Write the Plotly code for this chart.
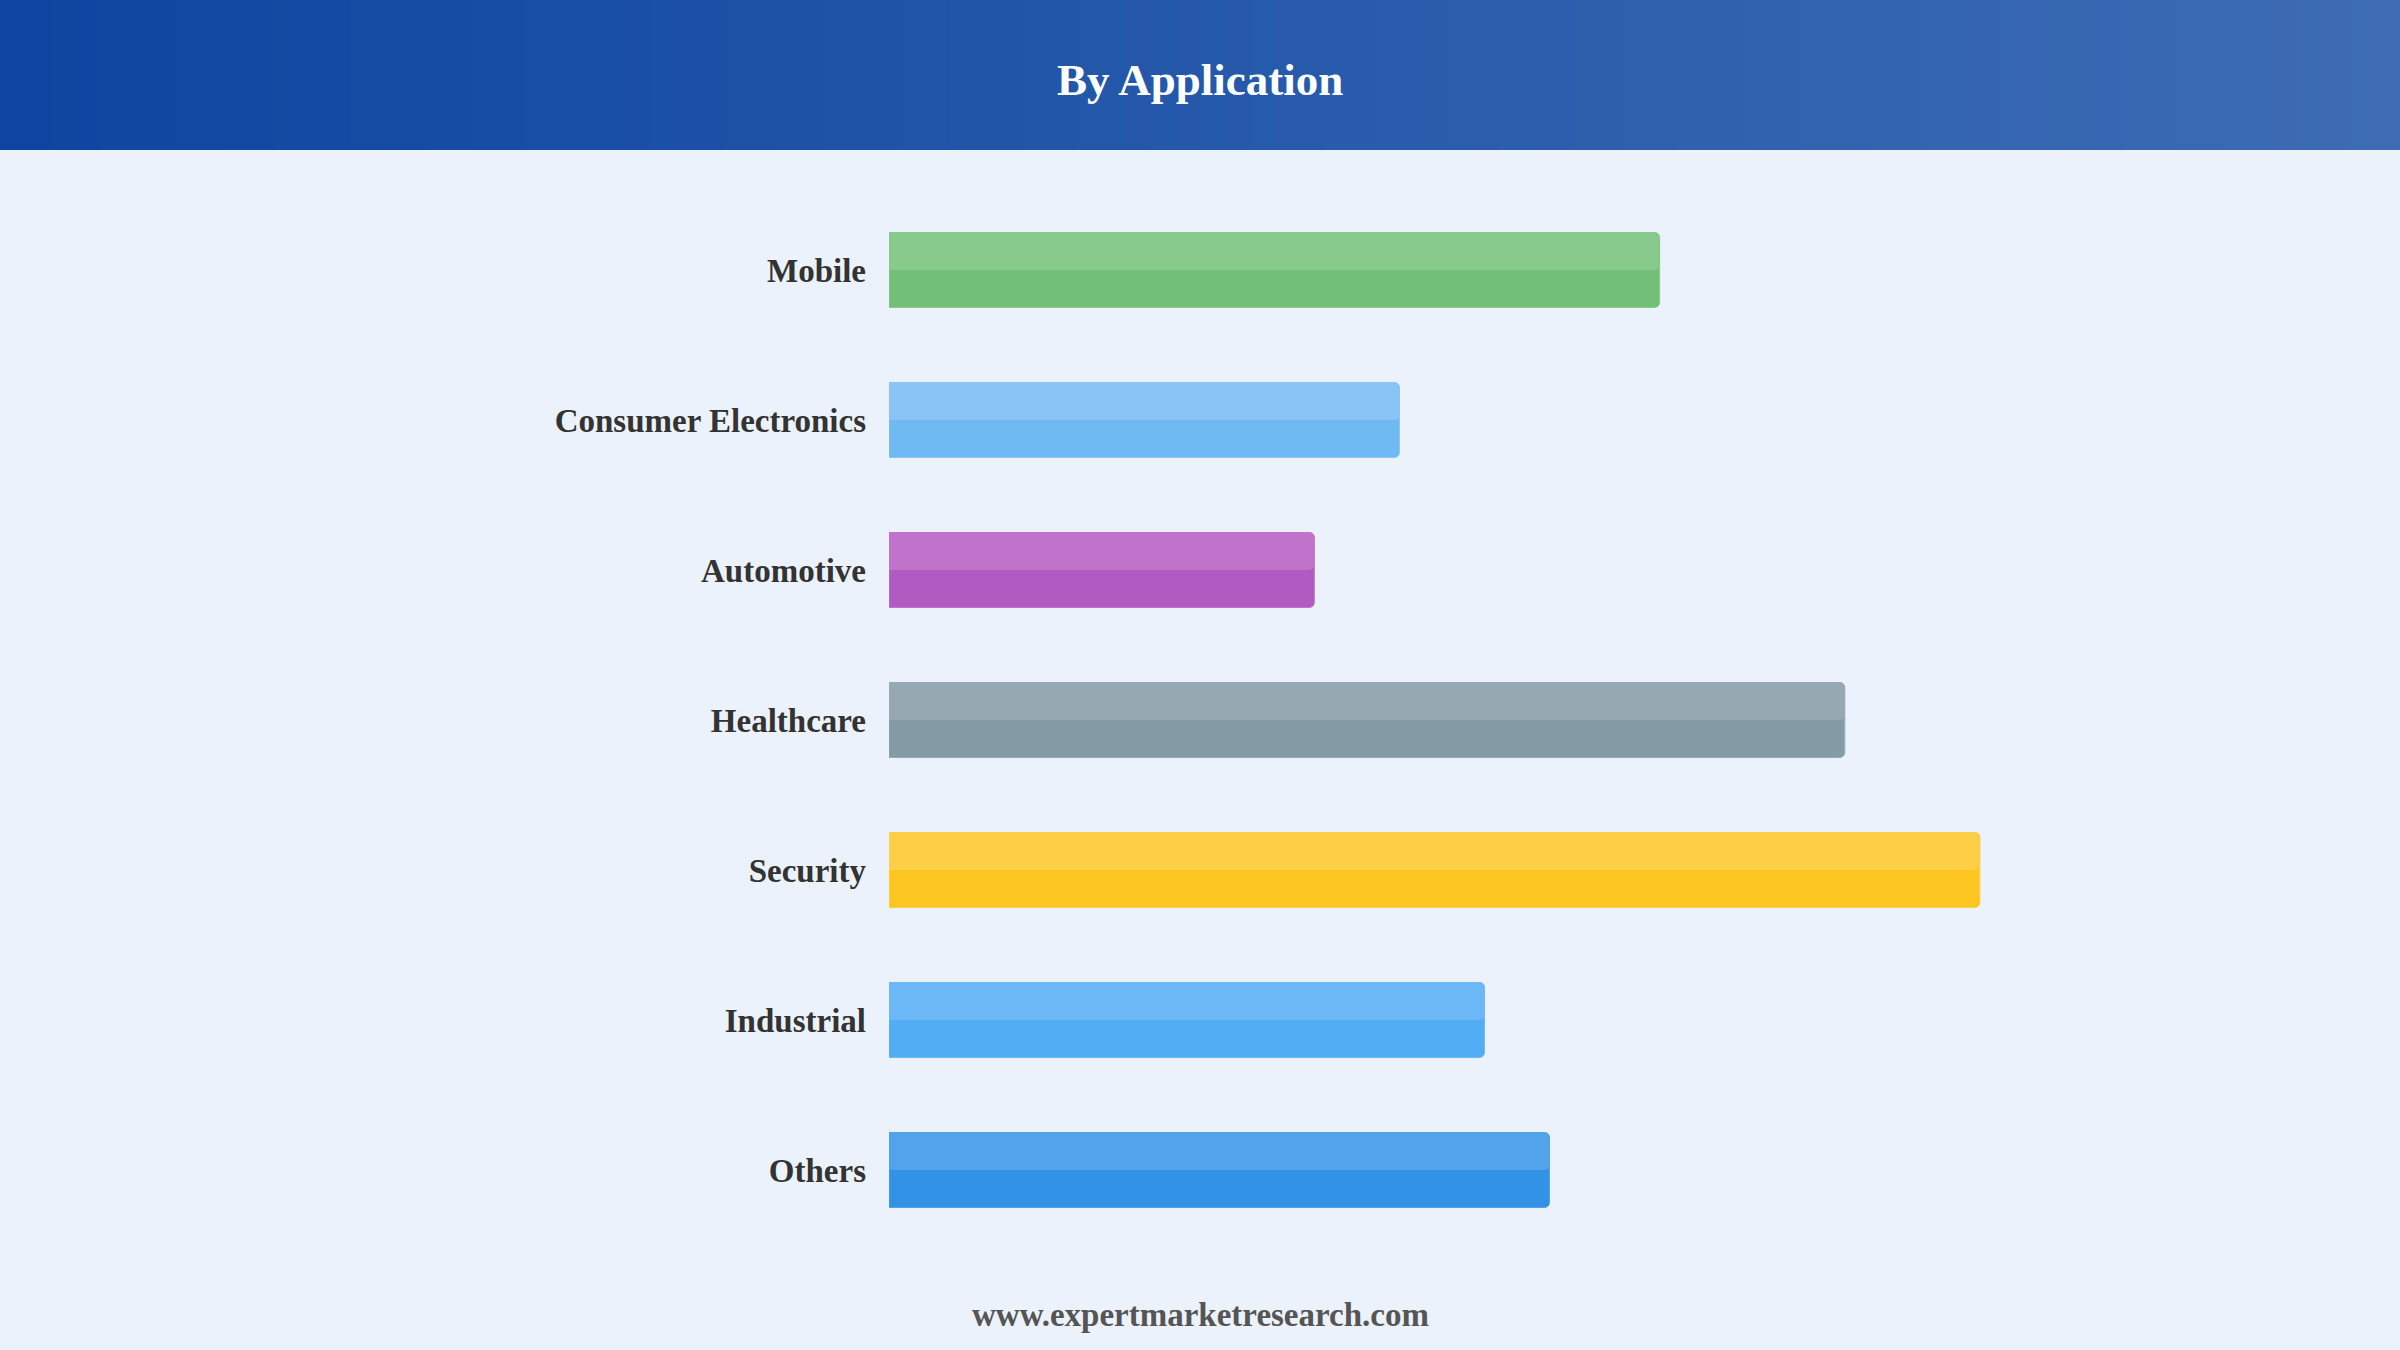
import plotly.graph_objects as go

# ---- data ----
categories = ["Mobile", "Consumer Electronics", "Automotive", "Healthcare",
              "Security", "Industrial", "Others"]
values = [15.4, 10.2, 8.5, 19.1, 21.8, 11.9, 13.2]
bottom_colors = ["#72BF78", "#70BAF3", "#B05BC1", "#849BA6", "#FCC520", "#52ADF4", "#3292E6"]
top_colors = ["#88CA8C", "#89C4F4", "#C173CB", "#96A9B3", "#FDCF46", "#6CB8F6", "#52A3EA"]
title_text = "By Application"
footer_text = "www.expertmarketresearch.com"

# ---- layout geometry ----
W, H = 2400, 1350
ml, mt = 889, 195
xmax = 25
pw = 1251
ph = 1050
mr = W - ml - pw
mb = H - mt - ph
BG = "#EBF2FB"
FONT = "Liberation Serif"


def px_to_paper_x(px):
    return (px - ml) / pw


def px_to_paper_y(py):
    return (mt + ph - py) / ph


fig = go.Figure()

# full (darker) bar
fig.add_trace(go.Bar(
    y=categories, x=values, orientation="h",
    width=0.5,
    marker=dict(color=bottom_colors, cornerradius=5,
                line=dict(color=top_colors, width=1)),
    hoverinfo="skip", showlegend=False,
))
# lighter top half
fig.add_trace(go.Bar(
    y=categories, x=values, orientation="h",
    width=0.25, offset=-0.25,
    marker=dict(color=top_colors, cornerradius=5, line=dict(width=0)),
    hoverinfo="skip", showlegend=False,
))

# header gradient strips
shapes = []
c0 = (13, 69, 160)
c1 = (61, 108, 180)
n = 96
for i in range(n):
    t = i / (n - 1)
    col = "rgb({},{},{})".format(*[round(a + (b - a) * t) for a, b in zip(c0, c1)])
    x0 = i * W / n
    x1 = (i + 1) * W / n + 1
    shapes.append(dict(type="rect", xref="paper", yref="paper",
                       x0=px_to_paper_x(x0), x1=px_to_paper_x(x1),
                       y0=px_to_paper_y(150), y1=px_to_paper_y(0),
                       fillcolor=col, line=dict(width=0), layer="below"))

annotations = [
    dict(text="<b>" + title_text + "</b>", xref="paper", yref="paper",
         x=px_to_paper_x(1200), y=px_to_paper_y(80), xanchor="center", yanchor="middle",
         showarrow=False, font=dict(family=FONT, size=45, color="white")),
    dict(text="<b>" + footer_text + "</b>", xref="paper", yref="paper",
         x=px_to_paper_x(1200), y=px_to_paper_y(1315), xanchor="center", yanchor="middle",
         showarrow=False, font=dict(family=FONT, size=33, color="#555555")),
]

fig.update_layout(
    width=W, height=H,
    margin=dict(l=ml, r=mr, t=mt, b=mb, autoexpand=False),
    paper_bgcolor=BG, plot_bgcolor=BG,
    barmode="overlay",
    shapes=shapes, annotations=annotations,
    xaxis=dict(range=[0, xmax], visible=False, fixedrange=True),
    yaxis=dict(autorange="reversed", showgrid=False, zeroline=False, showline=False,
               ticks="", ticklabelstandoff=22,
               tickfont=dict(family=FONT, size=33, color="#333333", weight="bold"),
               fixedrange=True),
    font=dict(family=FONT),
)

fig.write_html("out.html", config={"displayModeBar": False},
               post_script="document.body.style.margin='0px';document.body.style.background='%s';" % BG)
